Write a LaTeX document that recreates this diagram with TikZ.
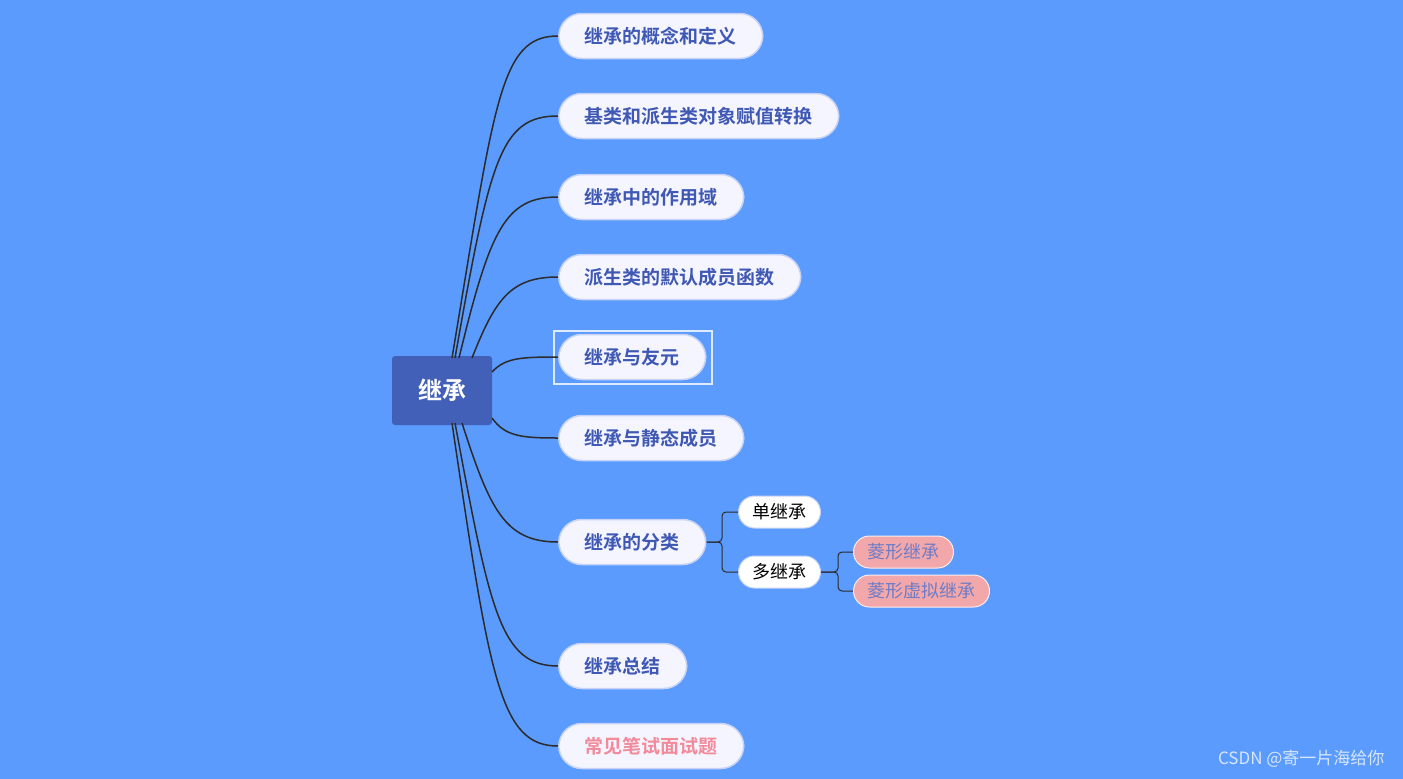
\documentclass[tikz,border=0pt]{standalone}
\usepackage{fontspec}
\newfontfamily\cjk{Noto Sans CJK SC}
\newfontfamily\cjkb{Noto Sans CJK SC Bold}
\definecolor{bg}{HTML}{5B9BFD}
\definecolor{rootc}{HTML}{4360B9}
\definecolor{pill}{HTML}{F4F5FF}
\definecolor{pillb}{HTML}{C6D2F6}
\definecolor{txt}{HTML}{3F58B4}
\definecolor{pinkt}{HTML}{F28A9A}
\definecolor{pinkf}{HTML}{F2A7AA}
\definecolor{pinktx}{HTML}{6F7CC6}
\definecolor{ln}{HTML}{2B2B2B}
\tikzset{x=1pt,y=-1pt,
 main/.style={draw=pillb,line width=1.5pt,fill=pill,rounded corners=23pt,minimum height=45pt,anchor=west,inner xsep=26pt,font=\fontsize{19}{19}\cjkb,text=txt},
 sub/.style={draw=pillb,line width=1pt,fill=white,rounded corners=16pt,minimum height=32pt,anchor=west,inner xsep=14pt,font=\fontsize{18}{18}\cjk,text=black},
 dia/.style={draw=white!80!pinkf,line width=1pt,fill=pinkf,rounded corners=16pt,minimum height=32pt,anchor=west,inner xsep=14pt,font=\fontsize{18}{18}\cjk,text=pinktx},
 conn/.style={draw=ln,line width=1.5pt},
 sconn/.style={draw=ln,line width=1pt,rounded corners=4pt}}
\begin{document}
\begin{tikzpicture}
\fill[bg] (0,0) rectangle (1403,779);
\useasboundingbox (0,0) rectangle (1403,779);
\node[fill=rootc,rounded corners=3pt,minimum width=100pt,minimum height=69pt,text=white,font=\fontsize{24}{24}\cjkb] (root) at (442,390.5) {继承};
\node[main] (c1) at (558,36) {继承的概念和定义};
\node[main] (c2) at (558,116) {基类和派生类对象赋值转换};
\node[main] (c3) at (558,197) {继承中的作用域};
\node[main] (c4) at (558,277) {派生类的默认成员函数};
\node[main] (c5) at (558,357) {继承与友元};
\node[main] (c6) at (558,438) {继承与静态成员};
\node[main] (c7) at (558,542) {继承的分类};
\node[main] (c8) at (558,666) {继承总结};
\node[main,text=pinkt] (c9) at (558,746) {常见笔试面试题};
\node[draw=white!80!bg,line width=2pt,minimum width=158pt,minimum height=53pt] (sel) at (633,357) {};
\node[sub] (s1) at (738,512) {单继承};
\node[sub] (s2) at (738,572) {多继承};
\node[dia] (d1) at (853,552) {菱形继承};
\node[dia] (d2) at (853,591) {菱形虚拟继承};
\coordinate (a1) at (452,358); \coordinate (a2) at (455,358); \coordinate (a3) at (459,358); \coordinate (a4) at (472,358);
\coordinate (b7) at (462,423); \coordinate (b8) at (455,423); \coordinate (b9) at (452,423);
\coordinate (r5) at (492,372); \coordinate (r6) at (492,418);
\draw[conn] (a1) .. controls (495,100) and (500,36) .. (c1.west);
\draw[conn] (a2) .. controls (490,160) and (500,116) .. (c2.west);
\draw[conn] (a3) .. controls (490,230) and (505,197) .. (c3.west);
\draw[conn] (a4) .. controls (495,300) and (510,277) .. (c4.west);
\draw[conn] (r5) .. controls (505,358) and (520,357) .. (c5.west);
\draw[conn] (r6) .. controls (505,436) and (520,438) .. (c6.west);
\draw[conn] (b7) .. controls (490,510) and (505,542) .. (c7.west);
\draw[conn] (b8) .. controls (490,610) and (500,666) .. (c8.west);
\draw[conn] (b9) .. controls (490,680) and (500,746) .. (c9.west);
\draw[sconn] (c7.east) -- (722,542) |- (s1.west);
\draw[sconn] (c7.east) -- (722,542) |- (s2.west);
\draw[sconn] (s2.east) -- (838,572) |- (d1.west);
\draw[sconn] (s2.east) -- (838,572) |- (d2.west);
\node[anchor=east,text=white!75!bg,font=\fontsize{17}{17}\cjk] (wm) at (1388,759) {CSDN @寄一片海给你};
\end{tikzpicture}
\end{document}
